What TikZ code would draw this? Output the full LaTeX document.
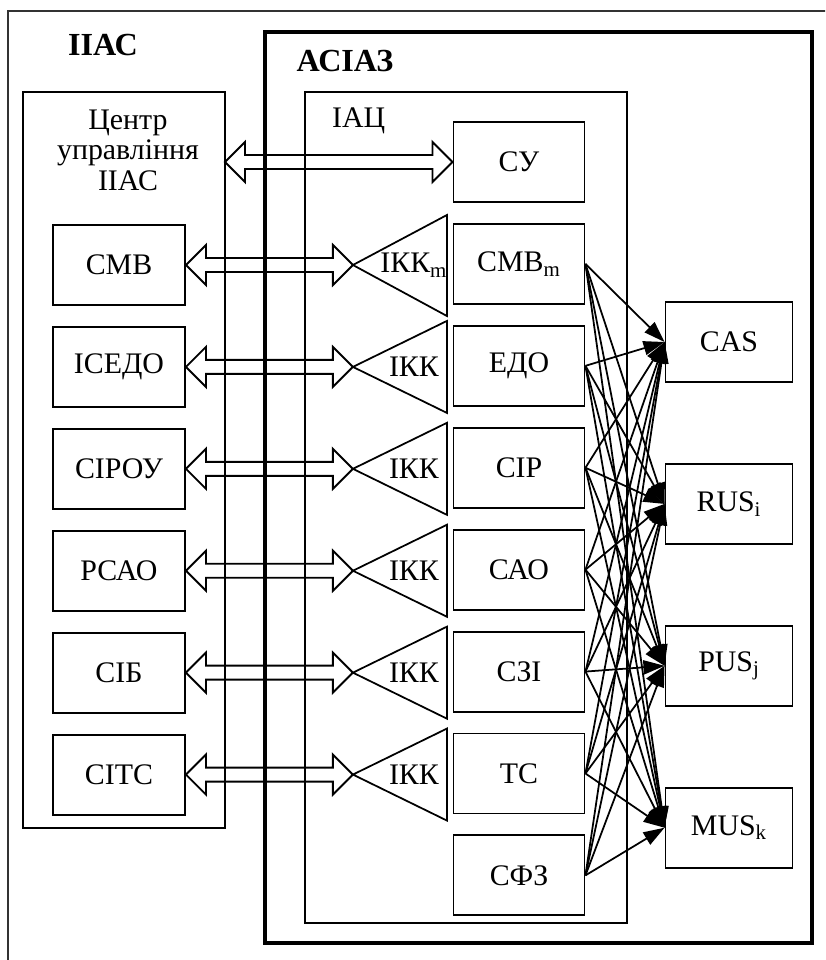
\documentclass[tikz,border=0pt]{standalone}
\usepackage{fontspec}
\setmainfont{Liberation Serif}
\usetikzlibrary{positioning, calc, arrows.meta}
\newcommand{\dblarrow}[2]{%
  \draw[hollow] let \p1=(#1), \p2=(#2) in
    (\x1,\y1) -- (\x1+11.4pt,\y1+11.4pt) -- (\x1+11.4pt,\y1+4pt)
    -- (\x2-11.4pt,\y1+4pt) -- (\x2-11.4pt,\y1+11.4pt) -- (\x2,\y1)
    -- (\x2-11.4pt,\y1-11.4pt) -- (\x2-11.4pt,\y1-4pt)
    -- (\x1+11.4pt,\y1-4pt) -- (\x1+11.4pt,\y1-11.4pt) -- cycle;}

\begin{document}
\begin{tikzpicture}[
    x=0.02cm, y=-0.02cm,
    node distance=0.4cm,
    font=\fontsize{17}{20}\selectfont,
    box/.style={rectangle, draw, line width=1.1pt, minimum width=2.64cm,
                minimum height=1.6cm, inner sep=0pt},
    unit/.style={box, minimum width=2.62cm},
    outbox/.style={box, minimum width=2.54cm},
    frame/.style={draw, line width=1pt},
    hollow/.style={line width=1.1pt, line join=miter},
    fan/.style={-{Triangle[length=12pt,width=8pt]}, line width=1pt},
    title/.style={font=\fontsize{18.3}{22}\selectfont\bfseries},
  ]
    \useasboundingbox (0,0) rectangle (825,960);
    \clip (0,0) rectangle (825,960);

    % frames
    \draw[line width=0.7pt, black!80] (8,11) rectangle (840,975);
    \draw[line width=2pt] (265,32) rectangle (812,943);
    \draw[frame] (23,92) rectangle (225,828);
    \coordinate (ctrSE) at (225,828);
    \draw[frame] (305,92) rectangle (627,923);

    \node[title] (iias) at (103,45) {ІІАС};
    \node[title] (asiaz) at (345,61) {АСІАЗ};
    \node[anchor=west] (iac) at (326,121) {ІАЦ};
    \node[align=center, font=\fontsize{17}{17.4}\selectfont] (ctr) at (128,150) {Центр\\управління\\ІІАС};

    % left column
    \node[box] (smv) at (119,265) {СМВ};
    \node[box, below=of smv] (isedo) {ІСЕДО};
    \node[box, below=of isedo] (sirou) {СІРОУ};
    \node[box, below=of sirou] (rsao) {РСАО};
    \node[box, below=of rsao] (sib) {СІБ};
    \node[box, below=of sib] (sits) {СІТС};

    % middle column
    \node[unit] (su) at (519,162) {СУ};
    \node[unit, below=of su] (smvm) {СМВ\textsubscript{m}};
    \node[unit, below=of smvm] (edo) {ЕДО};
    \node[unit, below=of edo] (sir) {СІР};
    \node[unit, below=of sir] (sao) {САО};
    \node[unit, below=of sao] (szi) {СЗІ};
    \node[unit, below=of szi] (ts) {ТС};
    \node[unit, below=of ts] (sfz) {СФЗ};

    % right column
    \node[outbox] (cas) at (729,342) {CAS};
    \node[outbox, below=1.6cm of cas] (rus) {RUS\textsubscript{i}};
    \node[outbox, below=1.6cm of rus] (pus) {PUS\textsubscript{j}};
    \node[outbox, below=1.6cm of pus] (mus) {MUS\textsubscript{k}};

    % ІКК
    \foreach \b [count=\i] in {smv,isedo,sirou,rsao,sib,sits}
      \coordinate (tip\i) at ([xshift=3.34cm]\b.east);
    \draw[frame] (tip1) -- ++(94,-50) -- ++(0,101) -- cycle;
    \foreach \i in {2,...,6}
      \draw[frame] (tip\i) -- ++(94,-46) -- ++(0,92) -- cycle;
    \node (ikk1) at ([xshift=1.22cm]tip1) {ІКК\textsubscript{m}};
    \foreach \i in {2,...,6}
      \node (ikk\i) at ([xshift=1.22cm]tip\i) {ІКК};

    % double arrows
    \dblarrow{su.west -| ctrSE}{su.west}
    \foreach \b [count=\i] in {smv,isedo,sirou,rsao,sib,sits}{
      \dblarrow{\b.east}{tip\i}
    }

    % links
    \foreach \s in {smvm,edo,sir,sao,szi,ts,sfz}
      \foreach \t in {cas,rus,pus,mus}
        \draw[fan] (\s.east) -- (\t.west);
  \end{tikzpicture}
\end{document}
